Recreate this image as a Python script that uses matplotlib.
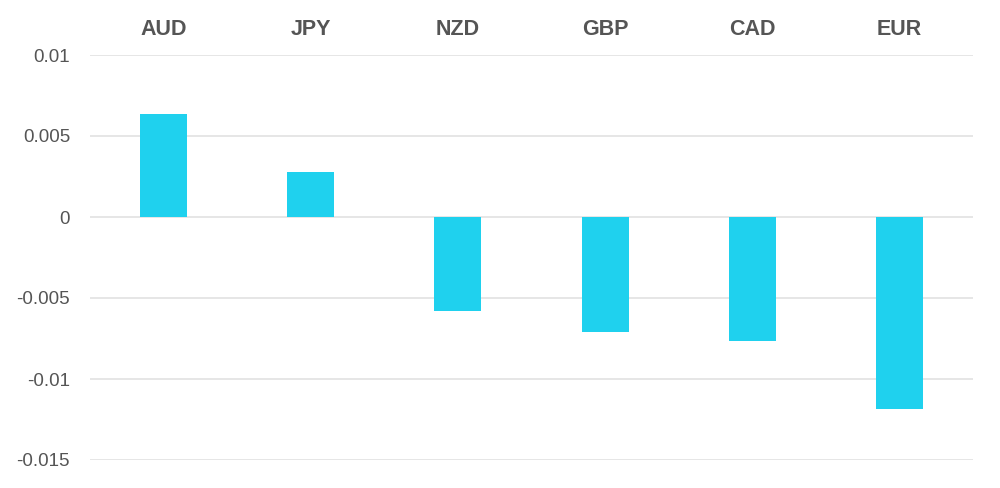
import matplotlib
matplotlib.use("Agg")
import matplotlib.pyplot as plt

categories = ["AUD", "JPY", "NZD", "GBP", "CAD", "EUR"]
values = [0.00636, 0.00278, -0.0058, -0.0071, -0.00765, -0.01185]
yticks = [0.01, 0.005, 0, -0.005, -0.01, -0.015]
ytick_labels = ["0.01", "0.005", "0", "-0.005", "-0.01", "-0.015"]

plt.rcParams['font.family'] = ['Liberation Sans', 'DejaVu Sans']

fig = plt.figure(figsize=(10, 4.88), dpi=100)
ax = fig.add_axes([0.09, 28/488, 0.883, 405/488])

x = list(range(len(categories)))
ax.bar(x, values, width=0.32, color="#1FD1EE", zorder=3)

ax.set_xlim(-0.5, len(categories) - 0.5)
ax.set_ylim(-0.015, 0.01)
ax.set_yticks(yticks)
ax.set_yticklabels(ytick_labels, fontsize=13.5, color="#555555")
ax.tick_params(axis='y', length=0, pad=14.4)
ax.grid(axis='y', color="#e2e2e2", linewidth=1.2, zorder=0)
ax.set_axisbelow(True)

ax.xaxis.tick_top()
ax.set_xticks(x)
ax.set_xticklabels(categories, fontsize=15.5, fontweight='bold', color="#555555")
ax.tick_params(axis='x', length=0, pad=11)

for s in ax.spines.values():
    s.set_visible(False)

fig.savefig("out.png", dpi=100, facecolor="white")
